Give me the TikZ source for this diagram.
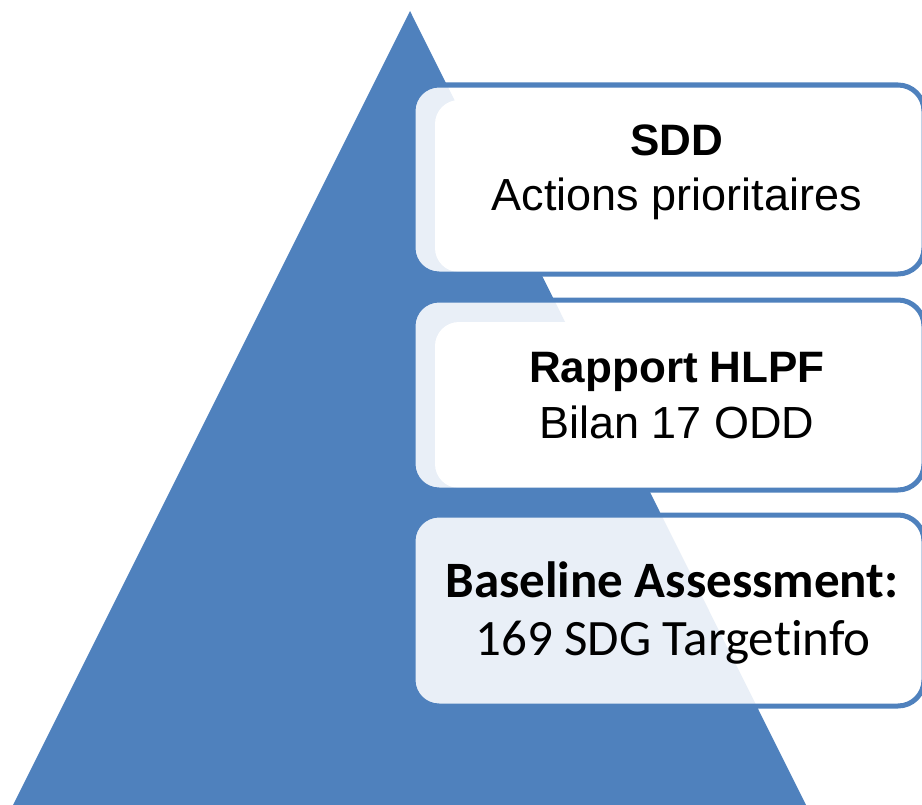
\documentclass[tikz,border=0pt]{standalone}
\usepackage{fontspec}
\setmainfont{Liberation Sans}
\newfontfamily\calib[Ligatures=NoCommon]{Carlito}
\definecolor{pyrblue}{RGB}{79,129,189}
\definecolor{paleblue}{RGB}{233,239,247}
\tikzset{
  headA/.style={anchor=base, inner sep=0, font=\bfseries\fontsize{44bp}{50bp}\selectfont},
  bodyA/.style={anchor=base, inner sep=0, font=\fontsize{45bp}{50bp}\selectfont},
  headC/.style={anchor=base, inner sep=0, font=\calib\bfseries\fontsize{51bp}{56bp}\selectfont},
  bodyC/.style={anchor=base, inner sep=0, font=\calib\fontsize{51bp}{56bp}\selectfont},
  boxline/.style={draw=pyrblue, line width=5bp, rounded corners=26bp},
}
\newcommand{\pyrpath}{(410,11) -- (806,805) -- (13,805) -- cycle}
\begin{document}
\begin{tikzpicture}[x=1bp,y=-1bp]
\useasboundingbox (0,0) rectangle (922,805);
\clip (0,0) rectangle (922,805);
\fill[pyrblue] \pyrpath;
% box 1
\begin{scope}
  \clip[rounded corners=26bp] (413,85) rectangle (924,274);
  \fill[white] (413,85) rectangle (924,274);
  \fill[paleblue] \pyrpath;
  \fill[white, rounded corners=24bp] (435,100) rectangle (922,272);
\end{scope}
\path[boxline] (413,85) rectangle (924,274);
% box 2
\begin{scope}
  \clip[rounded corners=26bp] (413,300) rectangle (924,490);
  \fill[white] (413,300) rectangle (924,490);
  \fill[paleblue] \pyrpath;
  \fill[white, rounded corners=24bp] (435,322) rectangle (922,488);
\end{scope}
\path[boxline] (413,300) rectangle (924,490);
% box 3
\begin{scope}
  \clip[rounded corners=26bp] (413,515) rectangle (924,706);
  \fill[white] (413,515) rectangle (924,706);
  \fill[paleblue] \pyrpath;
\end{scope}
\path[boxline] (413,515) rectangle (924,706);
% texts
\node[headA] (t1a) at (677,155) {SDD};
\node[bodyA] (t1b) at (677,210) {Actions prioritaires};
\node[headA] (t2a) at (677,382) {Rapport HLPF};
\node[bodyA] (t2b) at (677,438) {Bilan 17 ODD};
\node[headC] (t3a) at (672,597) {Baseline Assessment:};
\node[bodyC] (t3b) at (673,655) {169 SDG Targetinfo};
\end{tikzpicture}
\end{document}
